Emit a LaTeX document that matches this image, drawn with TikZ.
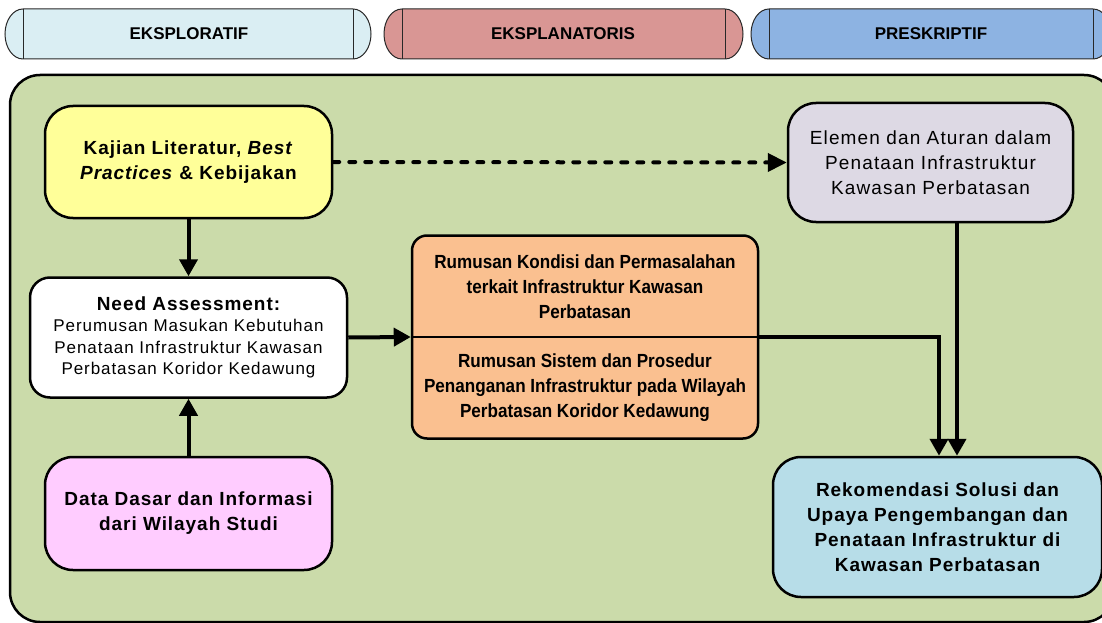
\documentclass[tikz,border=0pt]{standalone}
\usepackage{fontspec}
\setmainfont{Liberation Sans}
\newfontfamily\boxbold[LetterSpace=5]{Liberation Sans}
\newfontfamily\boxreg[LetterSpace=6]{Liberation Sans}
\newfontfamily\needreg[LetterSpace=5.5]{Liberation Sans}
\newfontfamily\narrowbold[FakeStretch=0.9]{Liberation Sans}
\usetikzlibrary{arrows.meta,calc}

\definecolor{hdrblue}{RGB}{218,238,243}
\definecolor{hdrrose}{RGB}{217,150,148}
\definecolor{hdrsky}{RGB}{141,179,226}
\definecolor{panelgreen}{RGB}{203,219,170}
\definecolor{lityellow}{RGB}{255,255,153}
\definecolor{datapink}{RGB}{255,204,255}
\definecolor{rumorange}{RGB}{250,192,144}
\definecolor{elemlav}{RGB}{221,217,228}
\definecolor{rekblue}{RGB}{183,221,232}
\definecolor{hdrline}{RGB}{40,40,40}

\tikzset{
  flowbox/.style={draw=black, line width=2.5pt, rounded corners=28pt,
    align=center, inner sep=0pt},
  hdrtext/.style={font=\bfseries\fontsize{17}{20}\selectfont, inner sep=0pt},
  boldtext/.style={font=\boxbold\bfseries\fontsize{19}{25}\selectfont},
  regtext/.style={font=\boxreg\fontsize{19}{25}\selectfont},
  needtext/.style={font=\needreg\fontsize{17}{21.5}\selectfont},
  rumtext/.style={align=center, font=\narrowbold\bfseries\fontsize{19}{25}\selectfont},
  flowarrow/.style={draw=black, line width=4pt,
    -{Triangle[length=17pt,width=18pt]}},
  dotarrow/.style={draw=black, line width=4pt, line cap=round,
    dash pattern=on 6pt off 10pt,
    -{Triangle[length=19pt,width=18pt]}},
}

% a header band with elliptical end caps and inner rules
\newcommand{\hdrband}[4]{% x outer-left, x inner-left, x inner-right, colour
  \path[fill=#4, draw=hdrline, line width=1pt]
    (#2,9) -- (#3,9) arc[start angle=-90, end angle=90, x radius=18, y radius=25]
    -- (#2,59) arc[start angle=90, end angle=270, x radius=18, y radius=25] -- cycle;
  \draw[hdrline, line width=1pt] (#2,9) -- (#2,59) (#3,9) -- (#3,59);
}

\begin{document}
\begin{tikzpicture}[x=1pt, y=-1pt]
\useasboundingbox (0,0) rectangle (1102,623);
\clip (0,0) rectangle (1102,623);
\fill[white] (0,0) rectangle (1102,623);

% phase headers
\hdrband{5}{23}{353}{hdrblue}
\hdrband{383}{402}{725}{hdrrose}
\hdrband{752}{769}{1093}{hdrsky}
\node[hdrtext] (hexp) at (189,34) {EKSPLORATIF};
\node[hdrtext] (hexpl) at (563,34) {EKSPLANATORIS};
\node[hdrtext] (hpres) at (931,34) {PRESKRIPTIF};

% background panel
\draw[fill=panelgreen, line width=2.5pt, rounded corners=30pt]
  (10,75) rectangle (1114,622);

% boxes
\node[flowbox, fill=lityellow, minimum width=287pt, minimum height=112pt,
      boldtext] (lit) at (188.5,162)
  {Kajian Literatur, \textit{Best}\\\textit{Practices} \& Kebijakan};

\node[flowbox, fill=white, rounded corners=20pt, minimum width=317pt,
      minimum height=120pt, needtext] (need) at (188.5,337.5)
  {{\boxbold\bfseries\fontsize{19}{22}\selectfont Need Assessment:}\\
   Perumusan Masukan Kebutuhan\\
   Penataan Infrastruktur Kawasan\\
   Perbatasan Koridor Kedawung};

\node[flowbox, fill=datapink, minimum width=287pt, minimum height=113pt,
      boldtext] (data) at (188.5,513.5)
  {Data Dasar dan Informasi\\dari Wilayah Studi};

\node[flowbox, fill=rumorange, rounded corners=15pt, minimum width=346pt,
      minimum height=203pt] (rum) at (585,337) {};
\draw[black, line width=1.5pt] (rum.west) -- (rum.east);
\node[rumtext] (rumA) at (585,287)
  {Rumusan Kondisi dan Permasalahan\\terkait Infrastruktur Kawasan\\Perbatasan};
\node[rumtext] (rumB) at (585,388)
  {Rumusan Sistem dan Prosedur\\Penanganan Infrastruktur pada Wilayah\\Perbatasan Koridor Kedawung};

\node[flowbox, fill=elemlav, minimum width=285pt, minimum height=119pt,
      regtext] (elem) at (930.5,162.5)
  {Elemen dan Aturan dalam\\Penataan Infrastruktur\\Kawasan Perbatasan};

\node[flowbox, fill=rekblue, minimum width=329pt, minimum height=140pt,
      boldtext] (rek) at (937.5,527)
  {Rekomendasi Solusi dan\\Upaya Pengembangan dan\\Penataan Infrastruktur di\\Kawasan Perbatasan};

% connectors
\draw[flowarrow] (lit.south) -- (need.north);
\draw[flowarrow] (data.north) -- (need.south);
\draw[flowarrow] (need.east) -- (rum.west);
\draw[dotarrow] (lit.east) -- (elem.west);
\coordinate (rkin) at ($(rek.north)+(1.5,0)$);
\draw[flowarrow] (rum.east) -| (rkin);
\coordinate (elout) at ($(elem.south)+(26.5,0)$);
\draw[flowarrow] (elout) -- (elout |- rek.north);
\end{tikzpicture}
\end{document}
